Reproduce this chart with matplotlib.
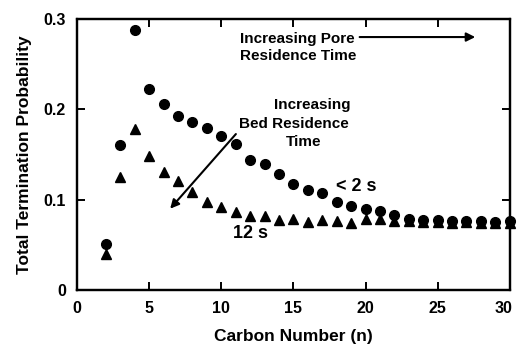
import matplotlib
matplotlib.use("Agg")
import matplotlib.pyplot as plt
from matplotlib.transforms import ScaledTranslation

plt.rcParams['font.family'] = ['Liberation Sans', 'DejaVu Sans']

carbon_n = list(range(2, 31))
short_bed = [0.051, 0.161, 0.288, 0.222, 0.206, 0.193, 0.186, 0.179, 0.170, 0.162,
             0.144, 0.140, 0.128, 0.117, 0.111, 0.107, 0.098, 0.093, 0.090, 0.088,
             0.083, 0.079, 0.078, 0.078, 0.077, 0.077, 0.076, 0.075, 0.076]
long_bed = [0.040, 0.125, 0.178, 0.148, 0.131, 0.121, 0.109, 0.097, 0.092, 0.087,
            0.0815, 0.0815, 0.078, 0.079, 0.075, 0.078, 0.077, 0.074, 0.079, 0.079,
            0.076, 0.076, 0.075, 0.075, 0.074, 0.075, 0.074, 0.074, 0.074]

xticks = [0, 5, 10, 15, 20, 25, 30]
yticks = [0, 0.1, 0.2, 0.3]
ytick_labels = ['0', '0.1', '0.2', '0.3']

fig = plt.figure(figsize=(5.17, 3.45), dpi=100)
ax = fig.add_axes([0.149, 0.159, 0.837, 0.786])

ax.plot(carbon_n, long_bed, linestyle='none', marker='^', color='black', markersize=6.5,
        clip_on=False, zorder=3)
ax.plot(carbon_n, short_bed, linestyle='none', marker='o', color='black', markersize=7,
        clip_on=False, zorder=3)

ax.set_xlim(0, 30)
ax.set_ylim(0, 0.3)
ax.set_xticks(xticks)
ax.set_yticks(yticks)
ax.set_yticklabels(ytick_labels)
for s in ax.spines.values():
    s.set_linewidth(1.6)
    s.set_edgecolor('black')
    s.set_visible(True)
ax.tick_params(axis='both', which='major', direction='in', length=6, width=1.4,
               top=True, right=True, colors='black', labelsize=11.5, pad=8)
for lbl in ax.get_xticklabels() + ax.get_yticklabels():
    lbl.set_fontweight('bold')
# nudge the last x tick label left so it stays inside the figure
last = ax.get_xticklabels()[-1]
last.set_transform(last.get_transform() + ScaledTranslation(-6 / 100, 0, fig.dpi_scale_trans))

# frame also drawn as lines in axes coordinates
ax.plot([0, 1, 1, 0, 0], [0, 0, 1, 1, 0], transform=ax.transAxes, color='black',
        lw=1.6, clip_on=False, zorder=5, solid_joinstyle='miter')

ax.set_xlabel('Carbon Number (n)', fontsize=12.5, fontweight='bold', labelpad=9)
ax.set_ylabel('Total Termination Probability', fontsize=12.5, fontweight='bold', labelpad=8)

# Pore residence annotation
ax.text(11.3, 0.2685, 'Increasing Pore\nResidence Time', fontsize=11, fontweight='bold',
        ha='left', va='center', linespacing=1.25)
ax.annotate('', xy=(27.8, 0.280), xytext=(19.4, 0.280),
            arrowprops=dict(arrowstyle='-|>', color='black', lw=1.5, mutation_scale=13))

# Bed residence annotation
ax.text(16.3, 0.205, 'Increasing', fontsize=11, fontweight='bold', ha='center', va='center')
ax.text(15.0, 0.184, 'Bed Residence', fontsize=11, fontweight='bold', ha='center', va='center')
ax.text(15.7, 0.164, 'Time', fontsize=11, fontweight='bold', ha='center', va='center')
ax.annotate('', xy=(6.33, 0.0878), xytext=(11.14, 0.175),
            arrowprops=dict(arrowstyle='-|>', color='black', lw=1.5, mutation_scale=13))

ax.text(17.95, 0.115, '< 2 s', fontsize=13, fontweight='bold', ha='left', va='center')
ax.text(10.8, 0.063, '12 s', fontsize=13, fontweight='bold', ha='left', va='center')

fig.savefig('out.png', dpi=100)
